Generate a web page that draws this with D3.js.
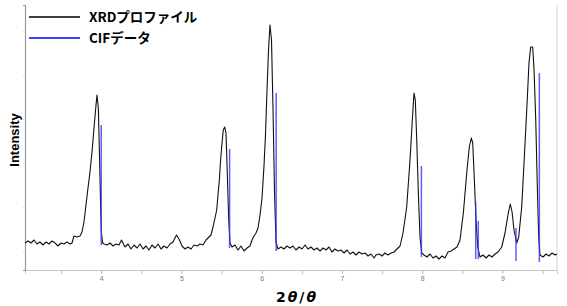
<!DOCTYPE html>
<html>
<head>
<meta charset="utf-8">
<script src="https://cdn.jsdelivr.net/npm/d3@7"></script>
<style>
  body { margin: 0; background: #fff; }
  svg { display: block; }
</style>
</head>
<body>
<div id="chart"></div>
<script>
// config
var WD = 567, HT = 306
var margin = { left: 25, right: 10, top: 5, bottom: 36 }

// XRD profile: 2theta and intensity
var xrdTheta = [
  3.050, 3.087, 3.125, 3.162, 3.200, 3.237, 3.274, 3.312, 3.349, 3.386, 3.424, 3.461, 3.499, 3.536, 3.573, 3.611, 3.636, 3.661, 3.698, 3.735,
  3.760, 3.785, 3.810, 3.835, 3.860, 3.885, 3.910, 3.935, 3.947, 3.964, 3.976, 3.988, 4.001, 4.018,
  4.035, 4.072, 4.109, 4.147, 4.184, 4.222, 4.253, 4.271, 4.296, 4.334, 4.371, 4.408, 4.446, 4.483, 4.521, 4.558, 4.595, 4.633, 4.670, 4.708,
  4.745, 4.782, 4.820, 4.857, 4.894, 4.938, 4.969, 5.007, 5.044, 5.081, 5.119, 5.156, 5.194, 5.231, 5.268, 5.306, 5.331, 5.368, 5.393,
  5.418, 5.439, 5.455, 5.472, 5.486, 5.501, 5.521, 5.539, 5.555, 5.571, 5.589, 5.605,
  5.630, 5.667, 5.705, 5.742, 5.779, 5.817, 5.854, 5.879, 5.904, 5.929, 5.954, 5.979, 6.004, 6.029, 6.047, 6.066, 6.085, 6.103, 6.122,
  6.141, 6.159, 6.178, 6.203,
  6.240, 6.278, 6.315, 6.353, 6.390, 6.427, 6.465, 6.502, 6.540, 6.577, 6.614, 6.652, 6.689, 6.727, 6.764, 6.801, 6.839, 6.876, 6.913,
  6.951, 6.988, 7.026, 7.063, 7.100, 7.138, 7.175, 7.213, 7.250, 7.287, 7.325, 7.362, 7.400, 7.424, 7.462, 7.499, 7.537, 7.574, 7.611,
  7.649, 7.686, 7.724, 7.761, 7.807, 7.848, 7.877, 7.898, 7.914, 7.932, 7.952, 7.973, 7.994,
  8.023, 8.060, 8.097, 8.135, 8.172, 8.210, 8.247, 8.284, 8.322, 8.359, 8.397, 8.434, 8.471, 8.513, 8.555, 8.587, 8.612, 8.630, 8.650,
  8.671, 8.692, 8.721,
  8.758, 8.795, 8.833, 8.870, 8.908, 8.945, 8.991, 9.032, 9.073, 9.098, 9.120, 9.144, 9.178, 9.203, 9.240, 9.269, 9.303, 9.331, 9.352,
  9.377, 9.394, 9.415, 9.435, 9.452, 9.468, 9.506, 9.543, 9.581, 9.618, 9.655, 9.680
]
var xrdIntensity = [
  27, 29, 27, 30, 26, 28, 25, 28, 26, 29, 27, 24, 27, 26, 28, 26, 27, 34, 33, 34,
  38, 48, 65, 82, 98, 118, 142, 165, 175, 162, 123, 80, 38, 27,
  26, 25, 27, 24, 26, 25, 30, 27, 23, 26, 21, 25, 22, 26, 21, 24, 20, 25, 22, 26,
  21, 24, 22, 26, 28, 35, 31, 24, 21, 23, 21, 25, 24, 26, 25, 30, 32, 35, 43,
  52, 60, 75, 90, 108, 123, 140, 143, 137, 97, 50, 27,
  23, 25, 20, 24, 19, 22, 24, 30, 34, 37, 42, 55, 72, 105, 135, 180, 220, 245, 230,
  160, 80, 28, 21,
  23, 21, 24, 22, 24, 20, 23, 21, 25, 21, 23, 20, 22, 19, 22, 20, 23, 18, 21,
  19, 20, 17, 20, 16, 18, 15, 18, 16, 17, 14, 16, 12, 15, 16, 14, 17, 15, 17,
  18, 21, 24, 37, 63, 110, 150, 177, 170, 130, 77, 33, 17,
  15, 13, 16, 12, 14, 11, 14, 12, 18, 19, 21, 23, 30, 57, 97, 123, 132, 127, 90,
  50, 23, 13,
  15, 12, 15, 13, 16, 18, 23, 37, 57, 66, 58, 40, 27, 33, 63, 107, 160, 207, 223,
  223, 200, 150, 83, 33, 15, 13, 16, 14, 17, 15, 16
]

// CIF reflections: position, top intensity, foot intensity
var cifTheta = [4.00, 5.60, 6.18, 7.99, 8.667, 8.699, 9.169, 9.46]
var cifIntensity = [145, 121, 177, 104, 68, 49, 42, 197]
var cifBase = [25, 22, 19, 13, 11, 11, 9, 8]

var xDomain = [3.05, 9.68]
var yDomain = [0, 265]
var xMajorTicks = [4, 5, 6, 7, 8, 9]
var xMinorTicks = [3.5, 4.5, 5.5, 6.5, 7.5, 8.5, 9.5]
var yTicks = [19, 63, 107, 151, 195, 239]

var legendLabels = ["XRDプロファイル", "CIFデータ"]
var legendColors = ["#000", "#0000ff"]

var svg = d3.select("#chart").append("svg")
    .attr("width", WD)
    .attr("height", HT)

var x = d3.scaleLinear().domain(xDomain).range([margin.left, WD - margin.right])
var y = d3.scaleLinear().domain(yDomain).range([HT - margin.bottom, margin.top])

// axes
var xAxisMinor = d3.axisBottom(x).tickValues(xMinorTicks).tickSize(4).tickFormat("")
var xAxis = d3.axisBottom(x).tickValues(xMajorTicks).tickSize(4).tickPadding(2).tickFormat(d3.format("d"))

var gxm = svg.append("g").attr("transform", "translate(0," + y(0) + ")").call(xAxisMinor)
var gx = svg.append("g").attr("transform", "translate(0," + y(0) + ")").call(xAxis)
gx.select(".domain").attr("stroke", "#c8c8c8")
gxm.select(".domain").remove()
svg.selectAll(".tick line").attr("stroke", "#bbb")
gx.selectAll("text").attr("fill", "#777").style("font-size", "7px").style("font-family", "Liberation Sans, Arial, sans-serif")

var gy = svg.append("g").attr("transform", "translate(" + x(xDomain[0]) + ",0)")
  .call(d3.axisLeft(y).tickValues(yTicks).tickSize(2).tickFormat(""))
gy.select(".domain").attr("stroke", "#999").attr("stroke-width", 1.2)
gy.selectAll(".tick line").attr("stroke", "#ddd")

// right border
svg.append("line")
  .attr("x1", x(xDomain[1])).attr("x2", x(xDomain[1]))
  .attr("y1", y(yDomain[1])).attr("y2", y(0))
  .attr("stroke", "#d4d4d4")

// XRD profile
var profile = xrdTheta.map(function(t, i) { return [t, xrdIntensity[i]] })
var line = d3.line().x(function(d) { return x(d[0]) }).y(function(d) { return y(d[1]) })

svg.append("path")
  .datum(profile)
  .attr("d", line)
  .attr("fill", "none")
  .attr("stroke", "#111")
  .attr("stroke-width", 1.1)
  .attr("stroke-linejoin", "round")

// CIF sticks
svg.selectAll(".cif")
  .data(cifTheta)
  .enter().append("line")
    .attr("class", "cif")
    .attr("x1", function(d) { return x(d) })
    .attr("x2", function(d) { return x(d) })
    .attr("y1", function(d, i) { return y(cifBase[i]) })
    .attr("y2", function(d, i) { return y(cifIntensity[i]) })
    .attr("stroke", "#3535ff")
    .attr("stroke-opacity", 0.8)
    .attr("stroke-width", 1.5)

// legend
var legend = svg.selectAll(".legend")
  .data(legendLabels)
  .enter().append("g")
    .attr("class", "legend")
    .attr("transform", function(d, i) { return "translate(29," + (17 + i * 21) + ")" })

legend.append("line")
  .attr("x1", 0).attr("x2", 51)
  .attr("stroke", function(d, i) { return legendColors[i] })
  .attr("stroke-width", 1.5)

legend.append("text")
  .attr("x", 60).attr("y", 5)
  .text(function(d) { return d })
  .style("font-family", "Noto Sans CJK JP, sans-serif")
  .style("font-weight", "bold")
  .style("font-size", "13.5px")

// axis titles
var xt = svg.append("text")
  .attr("x", 297).attr("y", 302)
  .attr("text-anchor", "middle")
  .style("font-family", "DejaVu Sans, sans-serif")
  .style("font-weight", "bold")
  .style("font-size", "14px")
  .style("letter-spacing", "2px")
xt.append("tspan").text("2")
xt.append("tspan").style("font-style", "italic").text("θ")
xt.append("tspan").text("/")
xt.append("tspan").style("font-style", "italic").text("θ")

svg.append("text")
  .attr("transform", "translate(19,140) rotate(-90)")
  .attr("text-anchor", "middle")
  .style("font-family", "Liberation Sans, Arial, sans-serif")
  .style("font-weight", "bold")
  .style("font-size", "13px")
  .text("Intensity")
</script>
</body>
</html>
